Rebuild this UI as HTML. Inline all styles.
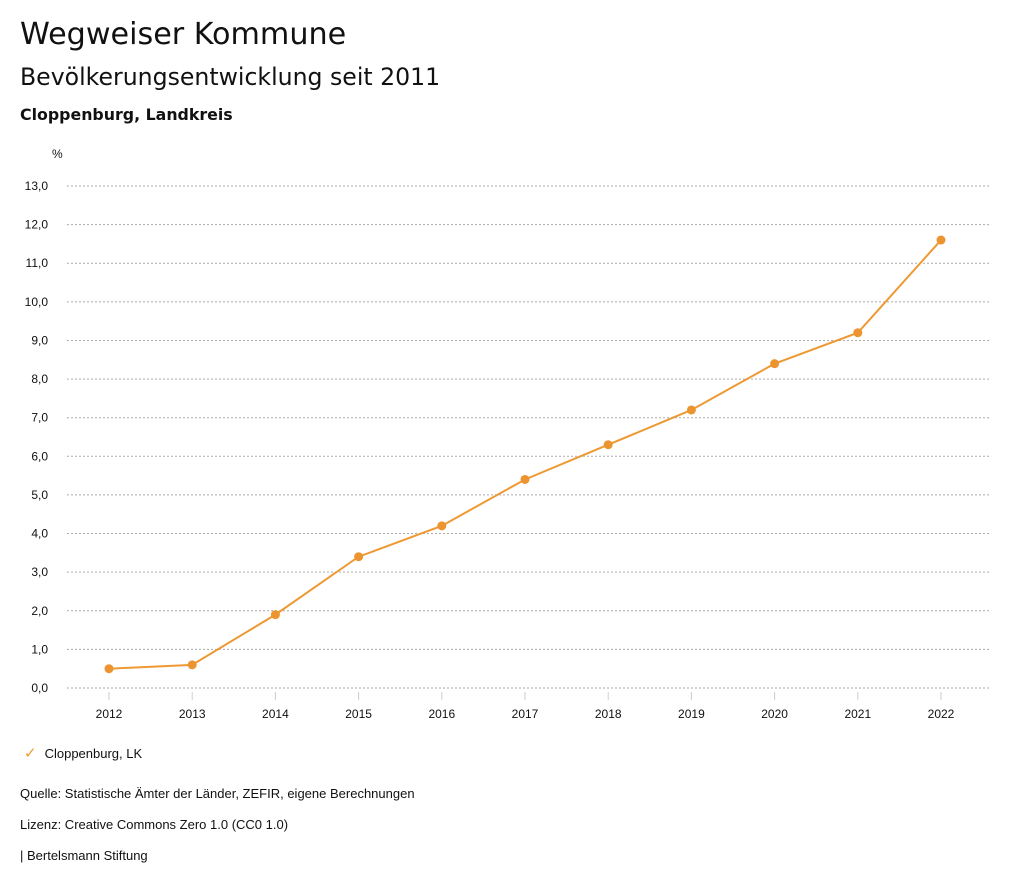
<!DOCTYPE html>
<html><head><meta charset="utf-8"><style>
body{margin:0;background:#fff;font-family:"Liberation Sans",sans-serif;color:#111}
.t{position:absolute;white-space:nowrap}
.d{font-family:"DejaVu Sans",sans-serif}
</style></head><body>
<div style="position:relative;width:1024px;height:888px;overflow:hidden">
<div class="t d" style="left:20px;top:17px;font-size:30.2px">Wegweiser Kommune</div>
<div class="t d" style="left:20px;top:63px;font-size:23.6px">Bevölkerungsentwicklung seit 2011</div>
<div class="t d" style="left:20px;top:105px;font-size:15.8px;font-weight:bold">Cloppenburg, Landkreis</div>
<svg id="chart" width="1024" height="888" style="position:absolute;left:0;top:0"></svg>
<div class="t" style="left:24px;top:744px;font-size:13px"><span style="color:#ee9933;font-size:15px;margin-right:8px">✓</span>Cloppenburg, LK</div>
<div class="t" style="left:20px;top:786px;font-size:13px">Quelle: Statistische Ämter der Länder, ZEFIR, eigene Berechnungen</div>
<div class="t" style="left:20px;top:817px;font-size:13px">Lizenz: Creative Commons Zero 1.0 (CC0 1.0)</div>
<div class="t" style="left:20px;top:848px;font-size:13px">| Bertelsmann Stiftung</div>
</div>
<script>
const years=["2012","2013","2014","2015","2016","2017","2018","2019","2020","2021","2022"];
const values=[0.5,0.6,1.9,3.4,4.2,5.4,6.3,7.2,8.4,9.2,11.6];
const yTicks=[0,1,2,3,4,5,6,7,8,9,10,11,12,13];
const svg=document.getElementById('chart');
const NS='http://www.w3.org/2000/svg';
const y=v=>688-v*(502/13);
const x=i=>109+i*83.2;
function mk(tag,a){const e=document.createElementNS(NS,tag);for(const k in a)e.setAttribute(k,a[k]);svg.appendChild(e);return e;}
const u=mk('text',{x:52,y:158,'font-size':12,fill:'#111'});u.textContent='%';


yTicks.forEach(v=>{
 const l=mk('line',{x1:67,x2:990,y1:y(v),y2:y(v),stroke:'#aaa','stroke-dasharray':'2,2'});
 
 
 const t=mk('text',{x:48,y:y(v)+4,'font-size':12,fill:'#111','text-anchor':'end'});t.textContent=v.toFixed(1).replace('.',',');
 
 
});
years.forEach((yr,i)=>{
 const l=mk('line',{x1:x(i),x2:x(i),y1:692,y2:700,stroke:'#ccc'});
 
 
 const t=mk('text',{x:x(i),y:718,'font-size':12,fill:'#111','text-anchor':'middle'});t.textContent=yr;
 
 
});
const p=mk('polyline',{points:values.map((v,i)=>x(i)+','+y(v)).join(' '),fill:'none',stroke:'#ee9933','stroke-width':2});


values.forEach((v,i)=>{
 const c=mk('circle',{cx:x(i),cy:y(v),r:4.5,fill:'#ec9530'});
 
 
});
</script>
</body></html>
